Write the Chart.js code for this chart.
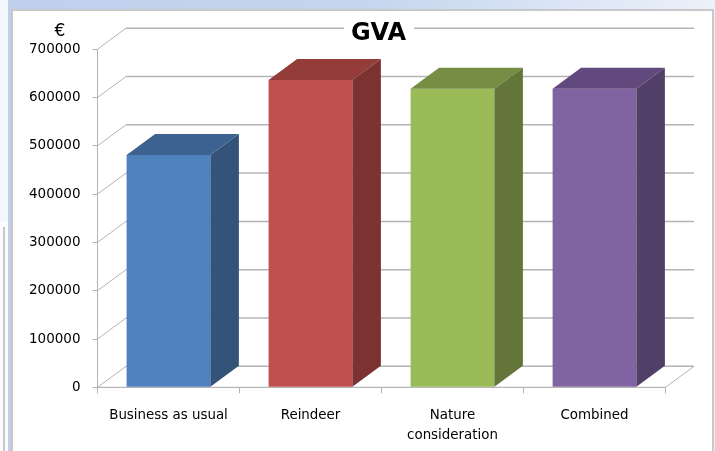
<!DOCTYPE html>
<html>
<head>
<meta charset="utf-8">
<title>GVA</title>
<script src="https://cdn.jsdelivr.net/npm/chart.js@4"></script>
<style>
  html, body { margin: 0; padding: 0; background: #fff; overflow: hidden; }
  #page { position: relative; width: 715px; height: 451px; overflow: hidden; background: #f4f7fe; }
  #band { position: absolute; left: 8px; top: 0; width: 707px; height: 451px;
          background: linear-gradient(to right, #bed0ec 0%, #c4d5ee 50%, #ecf1fa 100%); }
  #panel { position: absolute; left: 11px; top: 9px; width: 703px; height: 450px;
           background: #fff; border: 2px solid #c8c8c8; box-sizing: border-box; }
  #sidebox { position: absolute; left: 0; top: 221px; width: 8px; height: 230px; background: #fbfcff; }
  #sideline { position: absolute; left: 3px; top: 227px; width: 2px; height: 224px; background: #c8c8c8; }
  #chart { position: absolute; left: 0; top: 0; }
</style>
</head>
<body>
<div id="page">
  <div id="band"></div>
  <div id="panel"></div>
  <div id="sidebox"></div>
  <div id="sideline"></div>
  <canvas id="chart" width="715" height="451"></canvas>
</div>
<script>
// Datos
const categories = ['Business as usual', 'Reindeer', ['Nature', 'consideration'], 'Combined'];
const values = [481000, 636000, 618000, 618000];
const frontColors = ['#4f81bd', '#c0504d', '#9bbb59', '#8064a2'];
const topColors = ['#3c628f', '#933c3a', '#768e44', '#61497d'];
const sideColors = ['#335378', '#7b3230', '#637538', '#523f68'];
const yTicks = [0, 100000, 200000, 300000, 400000, 500000, 600000, 700000];
const chartTitle = 'GVA';
const unitLabel = '€';

// Profundidad del efecto 3D
const DEPTH_X = 28.5;
const DEPTH_Y = 21;
const GRID_COLOR = '#b4b4b4';

function line(ctx, x1, y1, x2, y2) {
  ctx.beginPath();
  ctx.moveTo(x1, y1);
  ctx.lineTo(x2, y2);
  ctx.stroke();
}

function poly(ctx, pts, color) {
  ctx.fillStyle = color;
  ctx.beginPath();
  pts.forEach((p, i) => i ? ctx.lineTo(p[0], p[1]) : ctx.moveTo(p[0], p[1]));
  ctx.closePath();
  ctx.fill();
}

// Paredes del grafico y lineas de fondo
const wallsPlugin = {
  id: 'walls',
  afterLayout(chart) {
    // el titulo original queda un poco a la izquierda del centro del area
    chart.titleBlock.left -= 6;
  },
  beforeDraw(chart) {
    const { ctx, chartArea, scales } = chart;
    const { left, right } = chartArea;
    ctx.save();
    ctx.strokeStyle = GRID_COLOR;
    yTicks.forEach(v => {
      const y = scales.y.getPixelForValue(v);
      ctx.lineWidth = 1;
      line(ctx, left, y, left + DEPTH_X, y - DEPTH_Y);
      ctx.lineWidth = 1.5;
      line(ctx, left + DEPTH_X, y - DEPTH_Y, right + DEPTH_X, y - DEPTH_Y);
    });
    const base = scales.y.getPixelForValue(0);
    ctx.lineWidth = 1;
    line(ctx, right, base, right + DEPTH_X, base - DEPTH_Y);
    line(ctx, left, base, right, base);
    // hueco blanco detras del titulo
    const top = scales.y.getPixelForValue(700000);
    ctx.fillStyle = '#fff';
    ctx.fillRect(344, top - DEPTH_Y - 4, 70, 8);
    ctx.restore();
  }
};

// Caras superior y lateral de cada barra, y el simbolo del euro
const bars3dPlugin = {
  id: 'bars3d',
  afterDatasetsDraw(chart) {
    const { ctx } = chart;
    chart.getDatasetMeta(0).data.forEach((bar, i) => {
      const l = bar.x - bar.width / 2;
      const r = bar.x + bar.width / 2;
      poly(ctx, [[l, bar.y], [r, bar.y], [r + DEPTH_X, bar.y - DEPTH_Y], [l + DEPTH_X, bar.y - DEPTH_Y]], topColors[i]);
      poly(ctx, [[r, bar.y], [r + DEPTH_X, bar.y - DEPTH_Y], [r + DEPTH_X, bar.base - DEPTH_Y], [r, bar.base]], sideColors[i]);
    });
    ctx.save();
    ctx.fillStyle = '#000';
    ctx.font = '17px "DejaVu Sans"';
    ctx.textAlign = 'center';
    ctx.textBaseline = 'middle';
    ctx.fillText(unitLabel, 60, 32);
    ctx.restore();
  }
};

new Chart(document.getElementById('chart'), {
  type: 'bar',
  data: {
    labels: categories,
    datasets: [{
      data: values,
      backgroundColor: frontColors,
      categoryPercentage: 1,
      barPercentage: 0.59
    }]
  },
  options: {
    responsive: false,
    animation: false,
    layout: { padding: { left: 20, right: 49.5, top: 18, bottom: 0 } },
    plugins: {
      legend: { display: false },
      tooltip: { enabled: false },
      title: {
        display: true,
        fullSize: false,
        text: chartTitle,
        color: '#000',
        padding: 0,
        font: { family: '"DejaVu Sans"', size: 24, weight: 'bold', lineHeight: 1.3 }
      }
    },
    scales: {
      x: {
        afterFit(scale) { scale.height = 63.7; },
        grid: { drawOnChartArea: false, color: GRID_COLOR, tickLength: 6 },
        border: { color: GRID_COLOR },
        ticks: { color: '#000', maxRotation: 0, autoSkip: false, padding: 11.5,
                 font: { family: '"DejaVu Sans"', size: 13.4, lineHeight: 1.55 } }
      },
      y: {
        min: 0,
        max: 700000,
        afterFit(scale) { scale.width = 77.5; },
        afterBuildTicks(scale) { scale.ticks = yTicks.map(v => ({ value: v })); },
        grid: { drawOnChartArea: false, color: GRID_COLOR, tickLength: 5 },
        border: { color: GRID_COLOR },
        ticks: { color: '#000', padding: 12, callback: v => String(v),
                 font: { family: '"DejaVu Sans"', size: 13.5 } }
      }
    }
  },
  plugins: [wallsPlugin, bars3dPlugin]
});
</script>
</body>
</html>
